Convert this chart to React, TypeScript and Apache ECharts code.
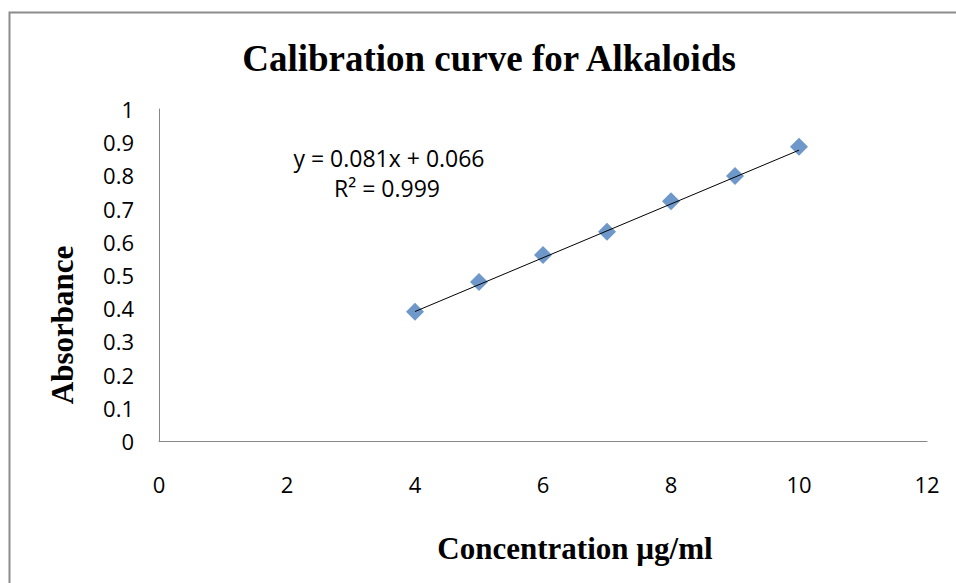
import React, { useEffect, useRef } from "react";
import * as echarts from "echarts";

const concentrations = [4, 5, 6, 7, 8, 9, 10];
const absorbances = [0.389, 0.479, 0.56, 0.63, 0.722, 0.798, 0.886];
const slope = 0.081;
const intercept = 0.066;
const equationText = "y = 0.081x + 0.066";
const r2Text = "R² = 0.999";
const titleText = "Calibration curve for Alkaloids";
const xAxisTitle = "Concentration µg/ml";
const yAxisTitle = "Absorbance";

export default function App() {
  const ref = useRef<HTMLDivElement>(null);
  useEffect(() => {
    if (!ref.current) return;
    const chart = echarts.init(ref.current, undefined, { renderer: "svg" });
    const xs = [Math.min(...concentrations), Math.max(...concentrations)];
    const trend = xs.map((x) => [x, slope * x + intercept]);
    const sans = "'Open Sans', 'Liberation Sans', sans-serif";
    const serif = "'Liberation Serif', 'DejaVu Serif', serif";
    chart.setOption({
      animation: false,
      backgroundColor: "#ffffff",
      title: {
        text: titleText,
        left: 484,
        textAlign: "center",
        top: 35,
        textStyle: { fontFamily: serif, fontWeight: "bold", fontSize: 37, color: "#000" },
      },
      grid: { left: 159, right: 29, top: 109, bottom: 142, containLabel: false },
      xAxis: {
        type: "value",
        min: 0,
        max: 12,
        interval: 2,
        axisLine: { show: true, lineStyle: { color: "#868686", width: 1 } },
        axisTick: { show: false },
        splitLine: { show: false },
        axisLabel: { fontFamily: sans, fontSize: 22, color: "#000", margin: 32 },
      },
      yAxis: {
        type: "value",
        min: 0,
        max: 1,
        interval: 0.1,
        axisLine: { show: true, lineStyle: { color: "#868686", width: 1 } },
        axisTick: { show: false },
        splitLine: { show: false },
        axisLabel: {
          fontFamily: sans,
          fontSize: 22,
          color: "#000",
          margin: 25,
          formatter: (v: number) => String(Math.round(v * 10) / 10),
        },
      },
      graphic: [
        {
          type: "rect",
          shape: { x: 9.5, y: 12.5, width: 1200, height: 1200 },
          style: { fill: "none", stroke: "#8c8c8c", lineWidth: 2 },
          silent: true,
          z: 100,
        },
        {
          type: "text",
          x: 575,
          y: 548,
          style: {
            text: xAxisTitle,
            fontFamily: serif,
            fontWeight: "bold",
            fontSize: 31,
            fill: "#000",
            textAlign: "center",
            textVerticalAlign: "middle",
          },
        },
        {
          type: "text",
          x: 62,
          y: 325,
          rotation: Math.PI / 2,
          style: {
            text: yAxisTitle,
            fontFamily: serif,
            fontWeight: "bold",
            fontSize: 31,
            fill: "#000",
            textAlign: "center",
            textVerticalAlign: "middle",
          },
        },
        {
          type: "text",
          x: 389,
          y: 158,
          style: {
            text: equationText,
            fontFamily: sans,
            fontSize: 23,
            fill: "#000",
            textAlign: "center",
            textVerticalAlign: "middle",
          },
        },
        {
          type: "text",
          x: 387,
          y: 188,
          style: {
            text: r2Text,
            fontFamily: sans,
            fontSize: 23,
            fill: "#000",
            textAlign: "center",
            textVerticalAlign: "middle",
          },
        },
      ],
      series: [
        {
          type: "line",
          data: trend,
          symbol: "none",
          lineStyle: { color: "#000", width: 1 },
          z: 3,
        },
        {
          type: "scatter",
          data: concentrations.map((x, i) => [x, absorbances[i]]),
          symbol: "diamond",
          symbolSize: [18, 18],
          itemStyle: { color: "#4A7EBB" },
          z: 2,
        },
      ],
    });
    return () => chart.dispose();
  }, []);
  return (
    <div
      ref={ref}
      style={{ position: "absolute", left: 0, top: 0, width: 956, height: 583 }}
    />
  );
}
